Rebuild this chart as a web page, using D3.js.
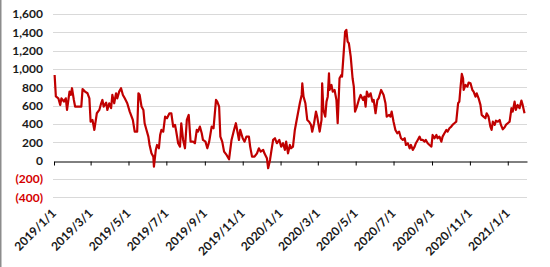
<!DOCTYPE html>
<html>
<head>
<meta charset="utf-8">
<script src="https://cdn.jsdelivr.net/npm/d3@7"></script>
<style>
  html, body { margin: 0; padding: 0; background: #fff; }
  svg { display: block; font-family: Lato, "Liberation Sans", sans-serif; }
</style>
</head>
<body>
<div id="chart"></div>
<script>
// ── Data ─────────────────────────────────────────────────────────────────────
// Day offsets from 2019/1/1 and the value on that day.
const dayOffsets = [
  1, 3, 7, 10, 12, 16, 19, 21, 25, 27, 29, 32, 34, 42, 44, 46, 50, 54, 57, 59,
  62, 65, 69, 73, 76, 78, 80, 84, 86, 89, 92, 94, 97, 100, 102, 105, 108, 111, 114, 118,
  122, 127, 130, 134, 136, 138, 141, 144, 146, 149, 152, 154, 157, 160, 161, 164, 166, 169,
  171, 173, 176, 179, 182, 186, 189, 192, 195, 197, 200, 203, 205, 208, 211, 214, 217, 220,
  224, 227, 230, 232, 235, 238, 240, 244, 247, 250, 254, 257, 261, 263, 266, 268, 271, 274,
  278, 282, 286, 290, 293, 295, 298, 300, 304, 307, 310, 314, 316, 319, 323, 327, 330, 333,
  337, 339, 343, 345, 348, 350, 353, 356, 359, 363,
  366, 369, 372, 374, 377, 380, 382, 385, 388, 390, 393, 396, 399, 400, 402, 405, 408, 411,
  414, 416, 419, 422, 424, 428, 431, 432, 434, 437, 439, 441, 443, 444, 447, 449, 452, 455,
  457, 460, 463, 464, 467, 469, 471, 473, 475, 478, 481, 483, 485, 488, 491, 494, 498, 500,
  502, 504, 507, 510, 513, 515, 518, 521, 523, 527, 531, 534, 536, 540, 542, 544, 547, 550,
  553, 556,
  559, 562, 565, 567, 570, 573, 575, 578, 581, 583, 586, 589, 591, 594, 597, 599, 602, 605,
  608, 610, 613, 616, 618, 621, 624, 626, 629, 632, 634, 637, 640, 642, 645, 648, 651, 653,
  655, 657, 659, 660, 663, 666, 668, 671, 674, 676, 679, 681, 684, 687, 689, 692, 695, 697,
  700, 703, 705, 707, 710, 712, 715, 718, 720, 723, 726, 728, 731, 734, 737, 739, 742, 744,
  747, 750, 753, 755, 758
];
const values = [
  935, 700, 680, 607, 680, 645, 680, 553, 753, 717, 790, 662, 590, 590, 590, 780, 753, 735, 680, 425,
  444, 335, 517, 553, 626, 662, 590, 633, 553, 626, 572, 717, 626, 735, 680, 753, 790, 717, 680, 626,
  535, 444, 316, 316, 735, 717, 590, 553, 408, 335, 262, 171, 80, 44, -65, 117, 171, 135,
  280, 335, 316, 480, 462, 517, 517, 371, 390, 316, 190, 153, 408, 226, 135, 444, 499, 207,
  207, 190, 335, 316, 371, 299, 226, 207, 135, 207, 371, 353, 662, 644, 590, 262, 207, 98,
  62, 15, 226, 335, 408, 335, 226, 335, 244, 207, 262, 262, 153, 44, 44, 80, 135, 98,
  117, 80, 26, -83, 8, 98, 226, 244, 190, 226,
  153, 190, 117, 207, 80, 171, 135, 153, 335, 408, 517, 626, 717, 844, 698, 626, 444, 425,
  390, 316, 408, 535, 480, 316, 444, 844, 553, 480, 644, 698, 953, 771, 826, 753, 771, 662,
  408, 899, 935, 917, 1208, 1407, 1426, 1298, 1281, 1135, 899, 807, 535, 590, 662, 717, 662, 698,
  590, 753, 698, 735, 644, 662, 517, 662, 680, 771, 717, 626, 480, 499, 480, 535, 425, 335,
  299, 316,
  244, 226, 244, 171, 190, 135, 171, 117, 153, 190, 226, 262, 226, 226, 207, 226, 190, 171,
  153, 280, 244, 280, 244, 262, 207, 262, 299, 335, 316, 353, 371, 390, 408, 425, 626, 644,
  807, 946, 899, 771, 826, 807, 851, 844, 771, 753, 698, 735, 680, 608, 499, 480, 462, 517,
  480, 371, 335, 425, 390, 436, 425, 444, 390, 342, 364, 390, 408, 425, 572, 535, 644, 553,
  608, 572, 655, 608, 517
];
const yTicks = [-400, -200, 0, 200, 400, 600, 800, 1000, 1200, 1400, 1600];
const xTickLabels = [
  '2019/1/1', '2019/3/1', '2019/5/1', '2019/7/1', '2019/9/1', '2019/11/1',
  '2020/1/1', '2020/3/1', '2020/5/1', '2020/7/1', '2020/9/1', '2020/11/1', '2021/1/1'
];

// ── Layout ───────────────────────────────────────────────────────────────────
const W = 550, H = 267;
const PLOT = { left: 54, right: 527, top: 14, bottom: 197.3 };
const LINE_RED = '#c00000';
const NEG_RED  = '#d40000';

const parseTick = d3.timeParse('%Y/%m/%d');
const start = new Date(2019, 0, 1);
const series = dayOffsets.map((d, i) => ({ date: d3.timeDay.offset(start, d), v: values[i] }));

const x = d3.scaleTime()
  .domain([start, new Date(2021, 1, 1)])
  .range([PLOT.left, PLOT.right]);

const y = d3.scaleLinear()
  .domain([-400, 1600])
  .range([PLOT.bottom, PLOT.top]);

const svg = d3.select('#chart').append('svg')
  .attr('width', W)
  .attr('height', H);

svg.append('rect').attr('width', W).attr('height', H).attr('fill', '#fff');

// chart frame, only the left edge is visible in the crop
svg.append('line')
  .attr('x1', 0.75).attr('x2', 0.75)
  .attr('y1', 0).attr('y2', H)
  .attr('stroke', '#8c8c8c')
  .attr('stroke-width', 1.5);

// ── Gridlines ────────────────────────────────────────────────────────────────
svg.append('g')
  .selectAll('line')
  .data(yTicks.filter(t => t !== 0))
  .join('line')
    .attr('x1', PLOT.left - 1)
    .attr('x2', PLOT.right)
    .attr('y1', d => Math.round(y(d)) + 0.5)
    .attr('y2', d => Math.round(y(d)) + 0.5)
    .attr('stroke', '#d9d9d9')
    .attr('stroke-width', 1);

// ── Y labels (negatives in red, accounting style) ────────────────────────────
const fmt = d3.format(',');
svg.append('g')
  .selectAll('text')
  .data(yTicks)
  .join('text')
    .attr('x', 43)
    .attr('y', d => y(d))
    .attr('dy', '0.35em')
    .attr('text-anchor', 'end')
    .attr('font-size', 12)
    .attr('font-weight', 700)
    .attr('fill', d => d < 0 ? NEG_RED : '#1a1a1a')
    .text(d => d < 0 ? `(${fmt(-d)})` : fmt(d));

// ── Zero axis with date ticks ────────────────────────────────────────────────
const tickDates = xTickLabels.map(parseTick);
const zeroY = Math.round(y(0)) + 0.5;

const xAxis = d3.axisBottom(x)
  .tickValues(tickDates)
  .tickSize(4)
  .tickSizeOuter(0)
  .tickFormat('');

svg.append('g')
  .attr('transform', `translate(0,${zeroY})`)
  .call(xAxis)
  .call(ax => ax.select('.domain').attr('stroke', '#000'))
  .call(ax => ax.selectAll('.tick line').attr('stroke', '#000'));

// rotated labels sit below the plot area
svg.append('g')
  .selectAll('text')
  .data(tickDates)
  .join('text')
    .attr('transform', d => `translate(${x(d) + 3},214) rotate(-45)`)
    .attr('text-anchor', 'end')
    .attr('font-size', 12)
    .attr('font-weight', 700)
    .attr('fill', '#1a1a1a')
    .text((d, i) => xTickLabels[i]);

// ── Series line ──────────────────────────────────────────────────────────────
const line = d3.line()
  .x(d => x(d.date))
  .y(d => y(d.v));

svg.append('path')
  .datum(series)
  .attr('d', line)
  .attr('fill', 'none')
  .attr('stroke', LINE_RED)
  .attr('stroke-width', 2.2)
  .attr('stroke-linejoin', 'round');
</script>
</body>
</html>
